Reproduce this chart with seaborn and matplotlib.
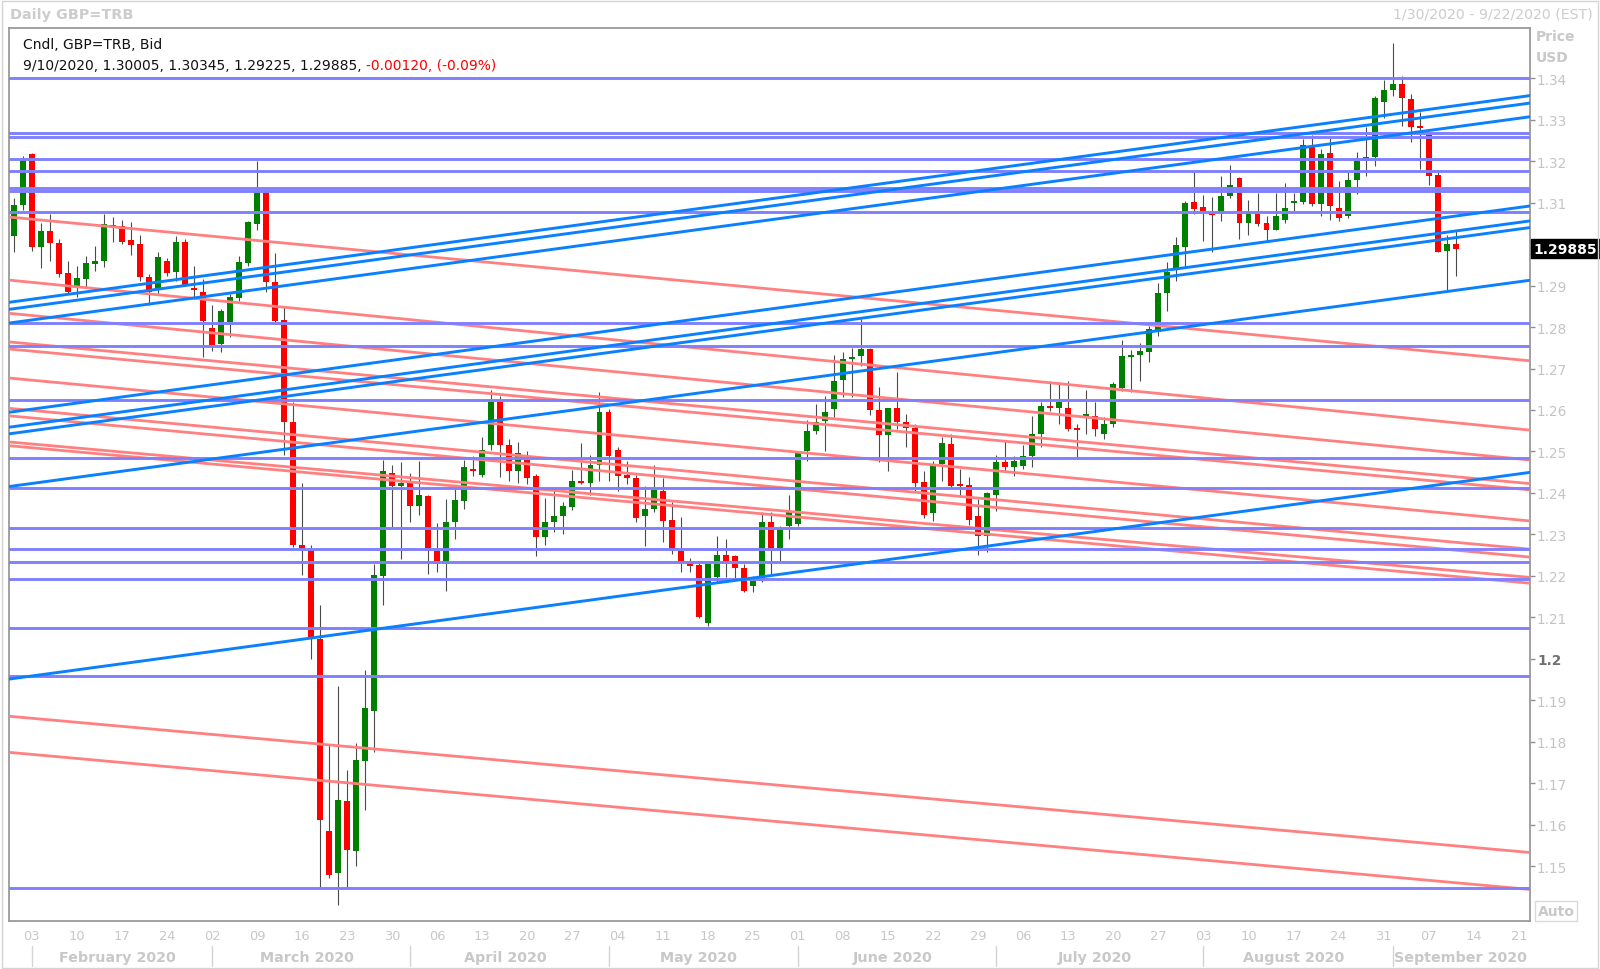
import numpy as np
import pandas as pd
import matplotlib
matplotlib.use('Agg')
import matplotlib.pyplot as plt
import matplotlib.transforms as mtransforms
from matplotlib.patches import Rectangle
import seaborn as sns

# trading days on the chart axis (1/30/2020 - 9/22/2020)
days = pd.bdate_range('2020-01-30', '2020-09-22')

# daily GBP=TRB candles, Jan 30 - Sep 10 2020
opens = [1.3020, 1.3095, 1.3217, 1.2994, 1.3031, 1.3003, 1.2930, 1.2894, 1.2916, 1.2952,
         1.2959, 1.3043, 1.3044, 1.3009, 1.2999, 1.2921, 1.2888, 1.2960, 1.2932, 1.3006,
         1.2894, 1.2884, 1.2797, 1.2759, 1.2811, 1.2869, 1.2954, 1.3048, 1.3125, 1.2909,
         1.2818, 1.2570, 1.2275, 1.2263, 1.2047, 1.1585, 1.1483, 1.1658, 1.1537, 1.1755,
         1.1875, 1.2200, 1.2449, 1.2417, 1.2426, 1.2368, 1.2393, 1.2261, 1.2228, 1.2331,
         1.2381, 1.2458, 1.2443, 1.2516, 1.2620, 1.2516, 1.2454, 1.2480, 1.2441, 1.2293,
         1.2331, 1.2344, 1.2366, 1.2430, 1.2423, 1.2467, 1.2594, 1.2504, 1.2443, 1.2436,
         1.2345, 1.2361, 1.2405, 1.2335, 1.2259, 1.2231, 1.2227, 1.2086, 1.2197, 1.2251,
         1.2247, 1.2219, 1.2175, 1.2187, 1.2329, 1.2259, 1.2320, 1.2325, 1.2500, 1.2549,
         1.2574, 1.2603, 1.2672, 1.2723, 1.2729, 1.2747, 1.2600, 1.2540, 1.2604, 1.2570,
         1.2556, 1.2426, 1.2352, 1.2470, 1.2518, 1.2420, 1.2419, 1.2345, 1.2297, 1.2395,
         1.2474, 1.2463, 1.2466, 1.2490, 1.2542, 1.2610, 1.2606, 1.2604, 1.2556, 1.2582,
         1.2585, 1.2542, 1.2566, 1.2652, 1.2728, 1.2733, 1.2739, 1.2789, 1.2881, 1.2940,
         1.2992, 1.3101, 1.3089, 1.3074, 1.3072, 1.3116, 1.3159, 1.3050, 1.3072, 1.3050,
         1.3034, 1.3059, 1.3099, 1.3101, 1.3237, 1.3097, 1.3219, 1.3086, 1.3068, 1.3155,
         1.3200, 1.3209, 1.3342, 1.3370, 1.3386, 1.3350, 1.3283, 1.3263, 1.3166, 1.2984,
         1.30005]
highs = [1.3110, 1.3213, 1.3219, 1.3050, 1.3072, 1.3012, 1.2960, 1.2948, 1.2970, 1.2995,
         1.3072, 1.3066, 1.3058, 1.3052, 1.3022, 1.2928, 1.2980, 1.2966, 1.3020, 1.3012,
         1.2948, 1.2916, 1.2853, 1.2843, 1.2880, 1.2972, 1.3056, 1.3201, 1.3133, 1.2978,
         1.2851, 1.2620, 1.2423, 1.2274, 1.2131, 1.1793, 1.1935, 1.1733, 1.1797, 1.1974,
         1.2228, 1.2480, 1.2467, 1.2475, 1.2449, 1.2476, 1.2396, 1.2327, 1.2385, 1.2417,
         1.2480, 1.2489, 1.2535, 1.2647, 1.2634, 1.2529, 1.2522, 1.2501, 1.2446, 1.2387,
         1.2406, 1.2379, 1.2456, 1.2520, 1.2491, 1.2644, 1.2602, 1.2512, 1.2478, 1.2443,
         1.2418, 1.2468, 1.2435, 1.2379, 1.2341, 1.2243, 1.2237, 1.2233, 1.2297, 1.2289,
         1.2251, 1.2229, 1.2201, 1.2353, 1.2355, 1.2320, 1.2394, 1.2502, 1.2576, 1.2614,
         1.2633, 1.2733, 1.2739, 1.2749, 1.2819, 1.2749, 1.2655, 1.2606, 1.2691, 1.2590,
         1.2566, 1.2454, 1.2478, 1.2534, 1.2542, 1.2458, 1.2438, 1.2385, 1.2403, 1.2492,
         1.2526, 1.2490, 1.2516, 1.2586, 1.2619, 1.2671, 1.2667, 1.2671, 1.2566, 1.2649,
         1.2620, 1.2583, 1.2668, 1.2769, 1.2745, 1.2761, 1.2803, 1.2906, 1.2956, 1.3016,
         1.3104, 1.3174, 1.3117, 1.3113, 1.3165, 1.3190, 1.3161, 1.3107, 1.3123, 1.3068,
         1.3122, 1.3146, 1.3122, 1.3253, 1.3263, 1.3229, 1.3255, 1.3153, 1.3173, 1.3221,
         1.3281, 1.3357, 1.3396, 1.3484, 1.3404, 1.3362, 1.3317, 1.3265, 1.3173, 1.3022,
         1.30345]
lows = [1.2980, 1.3083, 1.2984, 1.2942, 1.2958, 1.2921, 1.2880, 1.2873, 1.2896, 1.2934,
        1.2945, 1.3004, 1.2999, 1.2974, 1.2912, 1.2853, 1.2880, 1.2922, 1.2912, 1.2900,
        1.2867, 1.2727, 1.2743, 1.2739, 1.2775, 1.2863, 1.2946, 1.3034, 1.2884, 1.2811,
        1.2491, 1.2271, 1.2202, 1.1999, 1.1451, 1.1471, 1.1408, 1.1451, 1.1502, 1.1637,
        1.1776, 1.2129, 1.2318, 1.2241, 1.2329, 1.2348, 1.2204, 1.2209, 1.2164, 1.2288,
        1.2361, 1.2441, 1.2439, 1.2504, 1.2439, 1.2430, 1.2423, 1.2422, 1.2247, 1.2274,
        1.2307, 1.2300, 1.2359, 1.2422, 1.2396, 1.2430, 1.2430, 1.2405, 1.2422, 1.2331,
        1.2273, 1.2353, 1.2283, 1.2253, 1.2209, 1.2209, 1.2099, 1.2080, 1.2185, 1.2197,
        1.2194, 1.2161, 1.2162, 1.2185, 1.2205, 1.2237, 1.2289, 1.2321, 1.2478, 1.2542,
        1.2502, 1.2582, 1.2631, 1.2631, 1.2707, 1.2588, 1.2474, 1.2454, 1.2554, 1.2510,
        1.2405, 1.2339, 1.2333, 1.2430, 1.2414, 1.2390, 1.2323, 1.2251, 1.2257, 1.2357,
        1.2454, 1.2442, 1.2458, 1.2462, 1.2510, 1.2598, 1.2566, 1.2550, 1.2486, 1.2542,
        1.2537, 1.2530, 1.2559, 1.2645, 1.2643, 1.2671, 1.2716, 1.2779, 1.2839, 1.2912,
        1.2944, 1.3072, 1.3008, 1.2981, 1.3056, 1.3110, 1.3012, 1.3022, 1.3044, 1.3008,
        1.3033, 1.3051, 1.3080, 1.3097, 1.3092, 1.3067, 1.3059, 1.3056, 1.3062, 1.3121,
        1.3164, 1.3189, 1.3303, 1.3357, 1.3285, 1.3245, 1.3181, 1.3142, 1.2980, 1.2889,
        1.29225]
closes = [1.3095, 1.3203, 1.2994, 1.3031, 1.3002, 1.2928, 1.2884, 1.2917, 1.2954, 1.2960,
          1.3048, 1.3047, 1.3004, 1.2998, 1.2921, 1.2885, 1.2968, 1.2930, 1.3006, 1.2902,
          1.2888, 1.2815, 1.2757, 1.2839, 1.2872, 1.2956, 1.3052, 1.3125, 1.2908, 1.2815,
          1.2570, 1.2275, 1.2262, 1.2052, 1.1611, 1.1479, 1.1660, 1.1540, 1.1757, 1.1881,
          1.2202, 1.2452, 1.2417, 1.2423, 1.2368, 1.2394, 1.2260, 1.2228, 1.2331, 1.2383,
          1.2463, 1.2453, 1.2504, 1.2620, 1.2515, 1.2454, 1.2497, 1.2435, 1.2293, 1.2331,
          1.2344, 1.2368, 1.2430, 1.2423, 1.2467, 1.2594, 1.2489, 1.2441, 1.2435, 1.2340,
          1.2361, 1.2408, 1.2333, 1.2259, 1.2234, 1.2225, 1.2102, 1.2229, 1.2251, 1.2233,
          1.2219, 1.2163, 1.2187, 1.2329, 1.2259, 1.2313, 1.2353, 1.2496, 1.2549, 1.2572,
          1.2594, 1.2669, 1.2723, 1.2728, 1.2747, 1.2600, 1.2540, 1.2604, 1.2570, 1.2556,
          1.2423, 1.2347, 1.2468, 1.2520, 1.2418, 1.2418, 1.2335, 1.2297, 1.2400, 1.2474,
          1.2463, 1.2478, 1.2490, 1.2542, 1.2610, 1.2606, 1.2619, 1.2554, 1.2552, 1.2590,
          1.2554, 1.2566, 1.2663, 1.2731, 1.2733, 1.2743, 1.2795, 1.2882, 1.2932, 1.2998,
          1.3099, 1.3084, 1.3079, 1.3071, 1.3116, 1.3143, 1.3051, 1.3074, 1.3048, 1.3034,
          1.3068, 1.3086, 1.3104, 1.3239, 1.3097, 1.3217, 1.3092, 1.3062, 1.3155, 1.3201,
          1.3209, 1.3351, 1.3372, 1.3386, 1.3351, 1.3283, 1.3280, 1.3165, 1.2981, 1.30005,
          1.29885]

# horizontal support / resistance levels
levels = [1.3400, 1.3268, 1.3259, 1.3205, 1.3177, 1.3134, 1.3127, 1.3077, 1.2809, 1.2754,
          1.2623, 1.2484, 1.2411, 1.2315, 1.2264, 1.2233, 1.2192, 1.2075, 1.1960, 1.1448]

# rising trend lines: price on Jan 30 and on Sep 22
blue_jan30 = [1.2861, 1.2844, 1.2811, 1.2596, 1.2560, 1.2544, 1.2417, 1.1953]
blue_sep22 = [1.3357, 1.3339, 1.3306, 1.3091, 1.3055, 1.3039, 1.2912, 1.2449]

# falling trend lines: price on Jan 30 and on Sep 22
red_jan30 = [1.3064, 1.2912, 1.2832, 1.2763, 1.2746, 1.2676, 1.2603, 1.2585, 1.2522, 1.2513,
             1.1861, 1.1774]
red_sep22 = [1.2719, 1.2552, 1.2480, 1.2423, 1.2408, 1.2333, 1.2265, 1.2246, 1.2197, 1.2183,
             1.1534, 1.1445]

price_ticks = np.round(np.arange(1.15, 1.3405, 0.01), 2)
last_price = 1.29885

sns.set_style('white')
plt.rcParams['font.family'] = ['DejaVu Sans']

light = '#c8c8c8'
fig = plt.figure(figsize=(16, 9.7), dpi=100)
ax = fig.add_axes([0.005625, 0.049485, 0.950625, 0.920619])
xmin, xmax = -0.51, 168.23

# candles
o, h, l, c = map(np.array, (opens, highs, lows, closes))
x = np.arange(len(o))
up = c >= o
ax.vlines(x, l, h, color='#4a4a4a', lw=0.8, zorder=2)
body = np.maximum(np.abs(c - o), 0.0004)
bottom = np.minimum(o, c) - (body - np.abs(c - o)) / 2
ax.bar(x, body, bottom=bottom, width=0.66, color=np.where(up, '#008000', '#ff0000'),
       linewidth=0, zorder=3)


def trend_frame(p_start, p_end, tag):
    rows = []
    span = len(days) - 1
    for k, (p0, p1) in enumerate(zip(p_start, p_end)):
        slope = (p1 - p0) / span
        for xe in (xmin, xmax):
            rows.append({'line': f'{tag}{k}', 'x': xe, 'price': p0 + slope * xe})
    return pd.DataFrame(rows)


sns.lineplot(data=trend_frame(red_jan30, red_sep22, 'r'), x='x', y='price', units='line',
             estimator=None, color='#ff8080', lw=2.0, ax=ax, legend=False, zorder=4)
for lv in levels:
    ax.axhline(lv, color='#8080ff', lw=2.1, zorder=5)
sns.lineplot(data=trend_frame(blue_jan30, blue_sep22, 'b'), x='x', y='price', units='line',
             estimator=None, color='#0a80ff', lw=2.1, ax=ax, legend=False, zorder=6)

ax.set_xlim(xmin, xmax)
ax.set_ylim(1.13685, 1.35206)
ax.set_xlabel('')
ax.set_ylabel('')
for sp in ax.spines.values():
    sp.set_color('#9a9a9a')
    sp.set_linewidth(1.3)

# right price axis (the 1.30 label sits under the last-price box)
ax.yaxis.tick_right()
ax.set_yticks(price_ticks)
ylabels = []
for v in price_ticks:
    if abs(v - 1.2) < 1e-9:
        ylabels.append('1.2')
    elif abs(v - 1.3) < 1e-9:
        ylabels.append('')
    else:
        ylabels.append(f'{v:.2f}')
ax.set_yticklabels(ylabels)
ax.tick_params(axis='y', right=True, left=False, length=3.5, width=1, color='#909090',
               labelcolor='#c4c4c4', labelsize=9.8, pad=1.5)
for lab in ax.get_yticklabels():
    if lab.get_text() == '1.2':
        lab.set_fontweight('bold')
        lab.set_color('#707070')

# date axis: Mondays labelled, month starts ticked
mondays = [i for i, d in enumerate(days) if d.weekday() == 0]
ax.set_xticks(mondays)
ax.set_xticklabels([days[i].strftime('%d') for i in mondays])
periods = days.to_period('M')
month_starts = []
trans = mtransforms.blended_transform_factory(ax.transData, ax.transAxes)
for p in periods.unique():
    idx = np.where(periods == p)[0]
    if idx[0] == 0:
        continue
    month_starts.append(idx[0])
    ax.text((idx[0] + idx[-1]) / 2, -0.0403, p.strftime('%B %Y'), transform=trans,
            ha='center', va='center', fontsize=10.3, fontweight='bold', color=light)
    ax.plot([idx[0], idx[0]], [-0.028, -0.0504], transform=trans, color='#d4d4d4',
            lw=1, clip_on=False)
ax.set_xticks(month_starts, minor=True)
ax.tick_params(axis='x', which='both', length=3, width=1, color='#d0d0d0',
               labelcolor=light, labelsize=9.4, pad=3)

# header inside the chart
ax.text(0.0092, 0.982, 'Cndl, GBP=TRB, Bid', transform=ax.transAxes, va='center',
        fontsize=10, color='#111111')
t1 = ax.text(0.0092, 0.9586, '9/10/2020, 1.30005, 1.30345, 1.29225, 1.29885, ',
             transform=ax.transAxes, va='center', fontsize=10, color='#111111')
ax.annotate('-0.00120, (-0.09%)', xy=(1, 0.5), xycoords=t1, va='center', ha='left',
            fontsize=10, color='#ff0000')

# last price marker
ytrans = mtransforms.blended_transform_factory(ax.transAxes, ax.transData)
ax.text(1.0025, last_price, f'{last_price:.5f}', transform=ytrans, ha='left', va='center',
        fontsize=10, fontweight='bold', color='white',
        bbox=dict(boxstyle='square,pad=0.18', facecolor='black', edgecolor='black'))

# frame texts
fig.text(10 / 1600, 1 - 15 / 970, 'Daily GBP=TRB', fontsize=10.4, fontweight='bold',
         color='#cccccc', va='center', ha='left')
fig.text(1593 / 1600, 1 - 15 / 970, '1/30/2020 - 9/22/2020 (EST)', fontsize=10.2,
         color='#cccccc', va='center', ha='right')
fig.text(1536 / 1600, 1 - 37 / 970, 'Price', fontsize=10, fontweight='bold',
         color='#c8c8c8', va='center', ha='left')
fig.text(1536 / 1600, 1 - 58 / 970, 'USD', fontsize=10, fontweight='bold',
         color='#c8c8c8', va='center', ha='left')
fig.text(1556 / 1600, 1 - 912 / 970, 'Auto', fontsize=10, fontweight='bold',
         color='#c8c8c8', va='center', ha='center',
         bbox=dict(boxstyle='square,pad=0.2', facecolor='white', edgecolor='#dadada'))
fig.patches.append(Rectangle((0.001, 0.001), 0.998, 0.997, transform=fig.transFigure,
                             fill=False, edgecolor='#d4d4d4', lw=1))

fig.savefig('out.png', dpi=100, facecolor='white')
